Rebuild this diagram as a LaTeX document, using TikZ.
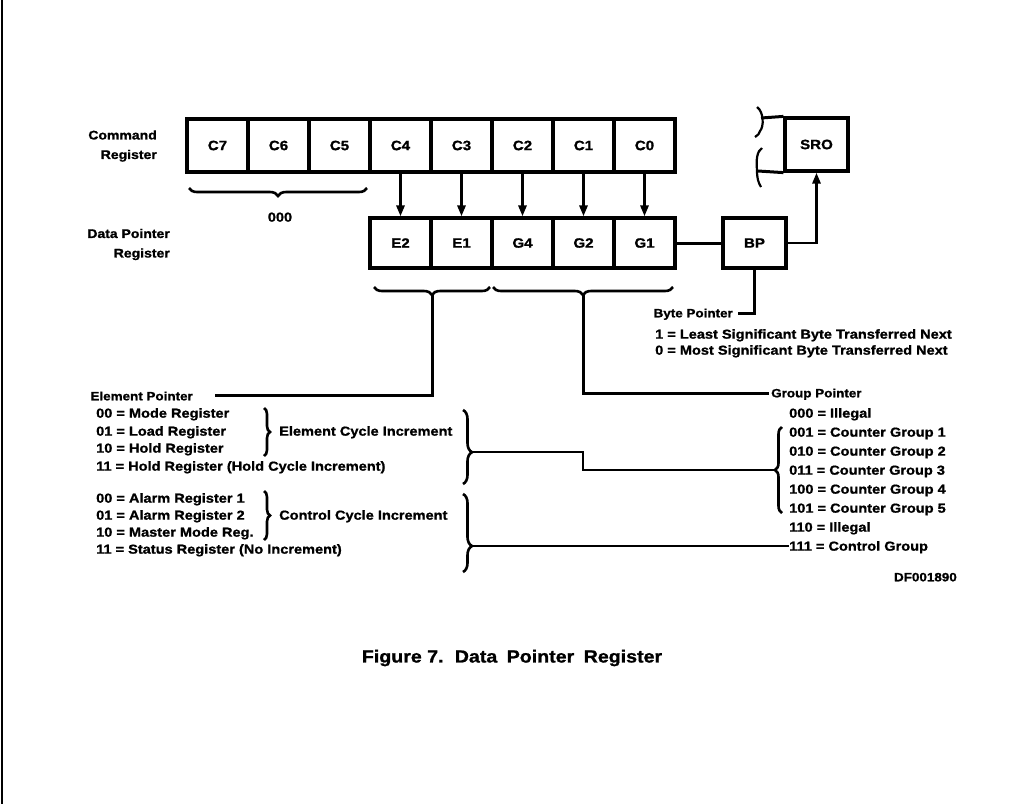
\documentclass[tikz,border=0pt]{standalone}
\usepackage{fontspec}
\setmainfont{Liberation Sans}[FakeStretch=1.12, BoldFeatures={FakeBold=1.2}]
\usetikzlibrary{arrows.meta,decorations.pathreplacing}
\begin{document}
\begin{tikzpicture}[x=1pt,y=-1pt,
  box/.style={draw, line width=3.2pt, inner sep=0pt, font=\bfseries\fontsize{13.5}{15}\selectfont},
  cmdcell/.style={box, minimum width=61pt, minimum height=53pt},
  dpcell/.style={box, minimum width=61pt, minimum height=50pt},
  conn/.style={line width=3pt},
  thin/.style={line width=2.6pt},
  arr/.style={line width=2.8pt, -{Triangle[length=11pt,width=8pt]}},
  brc/.style={line width=2.6pt, decorate, decoration={brace, amplitude=#1}},
  brc/.default=7pt,
  item/.style={anchor=west, inner sep=0pt, text height=9.3pt, text depth=0pt, font=\bfseries\fontsize{13}{15}\selectfont},
  head/.style={inner sep=0pt, text height=8.6pt, text depth=0pt, font=\bfseries\fontsize{12}{14}\selectfont},
  lbl/.style={inner sep=0pt, align=right, anchor=east, font=\bfseries\fontsize{12.5}{19.5}\selectfont}
]
\useasboundingbox (0,0) rectangle (1036,804);
\fill[white] (0,0) rectangle (1036,804);
\draw[line width=2.4pt] (2,0) -- (2,804);

% registers
\node[lbl] (cmdl) at (157,146) {Command\\Register};
\node[lbl] (dpl) at (170,244.5) {Data Pointer\\Register};
\foreach \n [count=\i from 0] in {7,6,5,4,3,2,1,0}
  \node[cmdcell] (c\n) at (217.5+61*\i,145.5) {C\n};
\foreach \n/\l [count=\i from 0] in {e2/E2,e1/E1,g4/G4,g2/G2,g1/G1}
  \node[dpcell] (\n) at (400.5+61*\i,243) {\l};
\foreach \a/\b in {c4/e2,c3/e1,c2/g4,c1/g2,c0/g1}
  \draw[arr] (\a) -- (\b);

% byte pointer and SRO
\node[box, minimum width=63pt, minimum height=50pt] (bp) at (754.5,243) {BP};
\node[box, minimum width=63pt, minimum height=53pt] (sro) at (816.5,144.5) {SRO};
\coordinate (brkt) at (761,118);
\coordinate (brkb) at (758,171);
\draw[conn] (brkt) -- (sro.north west);
\draw[conn] (brkb) -- (sro.south west);
\draw[line width=2.2pt] (757,107) .. controls (764,112) and (764,127) .. (760,131) .. controls (759,134) .. (755,137);
\draw[line width=2.2pt] (762,148) .. controls (757,151) and (756,160) .. (757,170) .. controls (757,178) and (758,182) .. (761,187);
\draw[conn] (g1) -- (bp);
\draw[arr] (bp.east) -| (sro.south);
\node[head, anchor=east, inner xsep=5pt] (bytel) at (738,313) {Byte Pointer};
\draw[conn] (bp.south) |- (bytel.east);
\node[item] (b1) at (655,334) {1 = Least Significant Byte Transferred Next};
\node[item] (b0) at (655,350) {0 = Most Significant Byte Transferred Next};

% braces under registers
\draw[brc=8pt] (367,188) -- (189,188);
\node[item, anchor=center] (zeros) at (280,217) {000};
\draw[brc=8pt] (490,287) -- (374,287);
\draw[brc=8pt] (673,287) -- (493,287);
\coordinate (etip) at (432,295);
\coordinate (gtip) at (583,295);

% element pointer
\node[head, anchor=east] (elab) at (193,396) {Element Pointer};
\coordinate (eend) at (215,395);
\draw[conn] (etip) |- (eend);
\node[item] (e00) at (96,413) {00 = Mode Register};
\node[item] (e01) at (96,431) {01 = Load Register};
\node[item] (e10) at (96,448) {10 = Hold Register};
\node[item] (e11) at (96,466) {11 = Hold Register (Hold Cycle Increment)};
\draw[brc=6pt] (264,408) -- (264,456);
\node[item] (eci) at (279,431) {Element Cycle Increment};
\node[item] (a00) at (96,498) {00 = Alarm Register 1};
\node[item] (a01) at (96,515) {01 = Alarm Register 2};
\node[item] (a10) at (96,532) {10 = Master Mode Reg.};
\node[item] (a11) at (96,549) {11 = Status Register (No Increment)};
\draw[brc=6pt] (264,491) -- (264,540);
\node[item] (cci) at (279,515) {Control Cycle Increment};
\draw[line width=2.6pt, decorate, decoration={brace,amplitude=9pt,aspect=0.57}] (463,410) -- (463,484);
\draw[line width=2.6pt, decorate, decoration={brace,amplitude=9pt,aspect=0.667}] (463,494) -- (463,572);
\coordinate (eb) at (472,452);
\coordinate (cb) at (472,546);

% group pointer
\node[head, anchor=west, inner xsep=2pt] (glab) at (769,393) {Group Pointer};
\draw[conn] (gtip) |- (glab.west);
\node[item] (g000) at (789,413) {000 = Illegal};
\node[item] (g001) at (789,432) {001 = Counter Group 1};
\node[item] (g010) at (789,451) {010 = Counter Group 2};
\node[item] (g011) at (789,470) {011 = Counter Group 3};
\node[item] (g100) at (789,489) {100 = Counter Group 4};
\node[item] (g101) at (789,508) {101 = Counter Group 5};
\node[item] (g110) at (789,527) {110 = Illegal};
\node[item] (g111) at (789,546) {111 = Control Group};
\draw[brc=7pt] (782,513) -- (782,427);
\coordinate (gb) at (775,470);
\draw[thin] (eb) -- ++(111,0) |- (gb);
\draw[thin] (cb) -- (g111.west);

% footer
\node[head, anchor=east, font=\bfseries\fontsize{12}{14}\selectfont] (df) at (957,577) {DF001890};
\node[font=\bfseries\fontsize{17.5}{20}\selectfont, inner sep=0pt] (cap) at (512,658) {Figure 7.\hspace{4pt} Data\hspace{4pt} Pointer\hspace{4pt} Register};
\end{tikzpicture}
\end{document}
